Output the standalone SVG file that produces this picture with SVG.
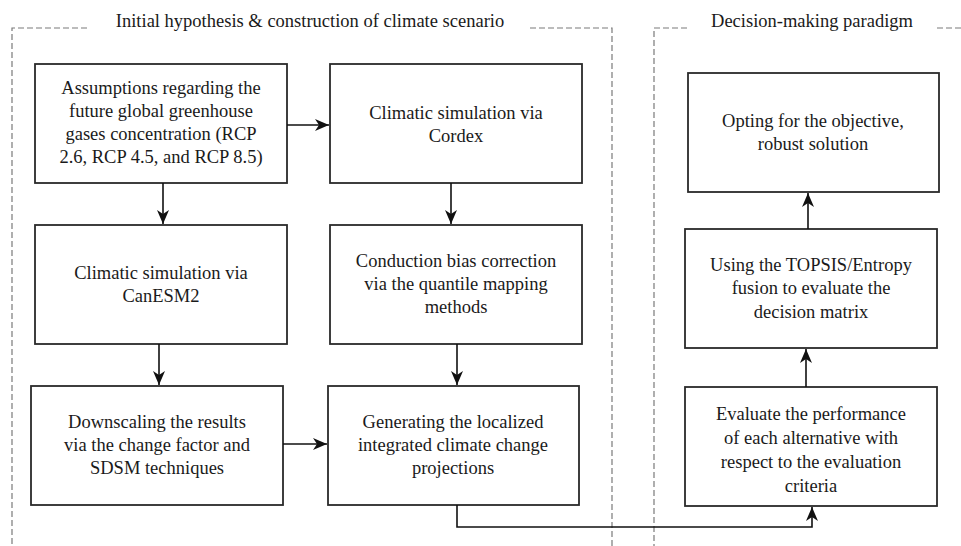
<svg xmlns="http://www.w3.org/2000/svg" width="961" height="546" viewBox="0 0 961 546">
<style>
.bg{fill:#fff}
.frame{fill:none;stroke:#7a7a7a;stroke-width:1.2;stroke-dasharray:6 3}
.box{fill:#fff;stroke:#2a2a2a;stroke-width:1.8}
.t{font-family:'Liberation Serif','Times New Roman','DejaVu Serif',serif;font-size:18.5px;fill:#1a1a1a;text-anchor:middle}
.conn{fill:none;stroke:#111;stroke-width:1.6}
</style>
<defs>
<marker id="ah" markerUnits="userSpaceOnUse" markerWidth="16" markerHeight="12" refX="14" refY="6" orient="auto">
<path d="M0,0 L14,6 L0,12 L4,6 z" fill="#111"/>
</marker>
</defs>
<rect class="bg" x="0" y="0" width="961" height="546"/>
<g font-family="'Liberation Serif', 'Times New Roman', serif">
<g id="frame-left">
<path class="frame" d="M87,28 H12 V546 M530,28 H612 V546"/>
<text class="t" x="310" y="27">Initial hypothesis &amp; construction of climate scenario</text>
</g>
<g id="frame-right">
<path class="frame" d="M687,28 H654 V546 M937,28 H961"/>
<text class="t" x="812" y="27">Decision-making paradigm</text>
</g>
<g id="n1">
<rect class="box" x="35" y="64" width="252" height="119"/>
<text class="t" x="161" y="94">Assumptions regarding the</text>
<text class="t" x="161" y="117">future global greenhouse</text>
<text class="t" x="161" y="140">gases concentration (RCP</text>
<text class="t" x="161" y="163">2.6, RCP 4.5, and RCP 8.5)</text>
</g>
<g id="n2">
<rect class="box" x="330" y="64" width="252" height="119"/>
<text class="t" x="456" y="119">Climatic simulation via</text>
<text class="t" x="456" y="142">Cordex</text>
</g>
<g id="n3">
<rect class="box" x="35" y="225" width="252" height="119"/>
<text class="t" x="161" y="279">Climatic simulation via</text>
<text class="t" x="161" y="302">CanESM2</text>
</g>
<g id="n4">
<rect class="box" x="330" y="225" width="252" height="119"/>
<text class="t" x="456" y="267">Conduction bias correction</text>
<text class="t" x="456" y="290">via the quantile mapping</text>
<text class="t" x="456" y="313">methods</text>
</g>
<g id="n5">
<rect class="box" x="31" y="386" width="252" height="119"/>
<text class="t" x="157" y="428">Downscaling the results</text>
<text class="t" x="157" y="451">via the change factor and</text>
<text class="t" x="157" y="474">SDSM techniques</text>
</g>
<g id="n6">
<rect class="box" x="328" y="386" width="251" height="119"/>
<text class="t" x="453" y="428">Generating the localized</text>
<text class="t" x="453" y="451">integrated climate change</text>
<text class="t" x="453" y="474">projections</text>
</g>
<g id="n7">
<rect class="box" x="688" y="73" width="251" height="119"/>
<text class="t" x="813" y="127">Opting for the objective,</text>
<text class="t" x="813" y="150">robust solution</text>
</g>
<g id="n8">
<rect class="box" x="685" y="229" width="252" height="119"/>
<text class="t" x="811" y="271">Using the TOPSIS/Entropy</text>
<text class="t" x="811" y="294">fusion to evaluate the</text>
<text class="t" x="811" y="318">decision matrix</text>
</g>
<g id="n9">
<rect class="box" x="685" y="387" width="252" height="119"/>
<text class="t" x="811" y="420">Evaluate the performance</text>
<text class="t" x="811" y="444">of each alternative with</text>
<text class="t" x="811" y="468">respect to the evaluation</text>
<text class="t" x="811" y="492">criteria</text>
</g>
</g>
<g id="connectors">
<path class="conn" d="M287,125 H329" marker-end="url(#ah)"/>
<path class="conn" d="M163,183 V224" marker-end="url(#ah)"/>
<path class="conn" d="M451,183 V224" marker-end="url(#ah)"/>
<path class="conn" d="M159,344 V385" marker-end="url(#ah)"/>
<path class="conn" d="M457,344 V385" marker-end="url(#ah)"/>
<path class="conn" d="M283,444 H327" marker-end="url(#ah)"/>
<path class="conn" d="M457,505 V527 H812 V507" marker-end="url(#ah)"/>
<path class="conn" d="M806,387 V349" marker-end="url(#ah)"/>
<path class="conn" d="M808,229 V193" marker-end="url(#ah)"/>
</g>
</svg>
